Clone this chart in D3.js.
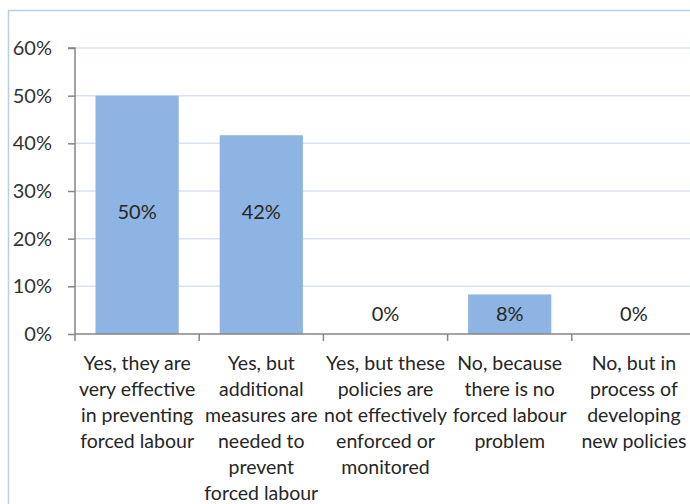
<!DOCTYPE html>
<html><head><meta charset="utf-8">
<script src="https://cdn.jsdelivr.net/npm/d3@7"></script>
<style>html,body{margin:0;padding:0;background:#fff;overflow:hidden}svg{display:block}</style>
</head><body>
<svg id="c" width="690" height="504"></svg>
<script>
const categories = [
  ["Yes, they are","very effective","in preventing","forced labour"],
  ["Yes, but","additional","measures are","needed to","prevent","forced labour"],
  ["Yes, but these","policies are","not effectively","enforced or","monitored"],
  ["No, because","there is no","forced labour","problem"],
  ["No, but in","process of","developing","new policies"]
];
const values = [50, 41.7, 0, 8.3, 0];
const valueLabels = ["50%", "42%", "0%", "8%", "0%"];
const yTicks = [0, 10, 20, 30, 40, 50, 60];
const yTickLabels = ["0%", "10%", "20%", "30%", "40%", "50%", "60%"];

(function () {
const svg = d3.select("#c");
const font = "Lato, 'Open Sans', sans-serif";
const weight = 400;
const pLeft = 75, pRight = 696, pTop = 48, pBottom = 334;

svg.append("rect").attr("x", 8.5).attr("y", 10.5).attr("width", 700).attr("height", 520)
  .attr("fill", "#fff").attr("stroke", "#B9CDE5").attr("stroke-width", 1.5);

const x = d3.scaleBand().domain(d3.range(categories.length)).range([pLeft, pRight]).paddingInner(0.33).paddingOuter(0.165);
const y = d3.scaleLinear().domain([0, 60]).range([pBottom, pTop]);

svg.append("g").selectAll("line").data(yTicks.filter(t => t > 0)).join("line")
  .attr("x1", pLeft).attr("x2", 690).attr("y1", d => y(d)).attr("y2", d => y(d))
  .attr("stroke", "#D9E2F0").attr("stroke-width", 1.5);

svg.append("g").selectAll("rect").data(values).join("rect")
  .attr("x", (d, i) => x(i)).attr("width", x.bandwidth())
  .attr("y", d => y(d)).attr("height", d => pBottom - y(d))
  .attr("fill", "#8EB4E3");

const yAxis = d3.axisLeft(y).tickValues(yTicks).tickFormat((d, i) => yTickLabels[i]).tickSize(7).tickPadding(16);
const gy = svg.append("g").attr("transform", `translate(${pLeft},0)`).call(yAxis);
gy.select(".domain").attr("stroke", "#868686").attr("stroke-width", 1.5).attr("d", `M-7,${pTop}H0V${pBottom}`);
gy.selectAll(".tick line").attr("stroke", "#868686").attr("stroke-width", 1.5);
gy.selectAll(".tick text").attr("font-family", font).attr("font-weight", weight).attr("font-size", 20).attr("fill", "#333");

const step = x.step();
const bounds = d3.range(categories.length + 1).map(i => pLeft + i * step);
svg.append("line").attr("x1", pLeft).attr("x2", 690).attr("y1", pBottom).attr("y2", pBottom)
  .attr("stroke", "#868686").attr("stroke-width", 1.5);
svg.append("g").selectAll("line").data(bounds).join("line")
  .attr("x1", d => d).attr("x2", d => d).attr("y1", pBottom).attr("y2", pBottom + 7)
  .attr("stroke", "#868686").attr("stroke-width", 1.5);

const cx = i => x(i) + x.bandwidth() / 2;
const gl = svg.append("g");
categories.forEach((lines, i) => {
  const t = gl.append("text").attr("text-anchor", "middle").attr("font-family", font)
    .attr("font-weight", weight).attr("font-size", 19.5).attr("fill", "#262626");
  lines.forEach((ln, j) => {
    t.append("tspan").attr("x", cx(i)).attr("y", 370 + j * 26).text(ln);
  });
});

const labelMid = v => v >= 40 ? 25.5 : Math.max(v / 2, 4.2);
svg.append("g").selectAll("text").data(values).join("text")
  .attr("x", (d, i) => cx(i)).attr("y", d => y(labelMid(d)))
  .attr("dy", "0.35em").attr("text-anchor", "middle")
  .attr("font-family", font).attr("font-weight", weight).attr("font-size", 20).attr("fill", "#262626")
  .text((d, i) => valueLabels[i]);
})();
</script>
</body></html>
